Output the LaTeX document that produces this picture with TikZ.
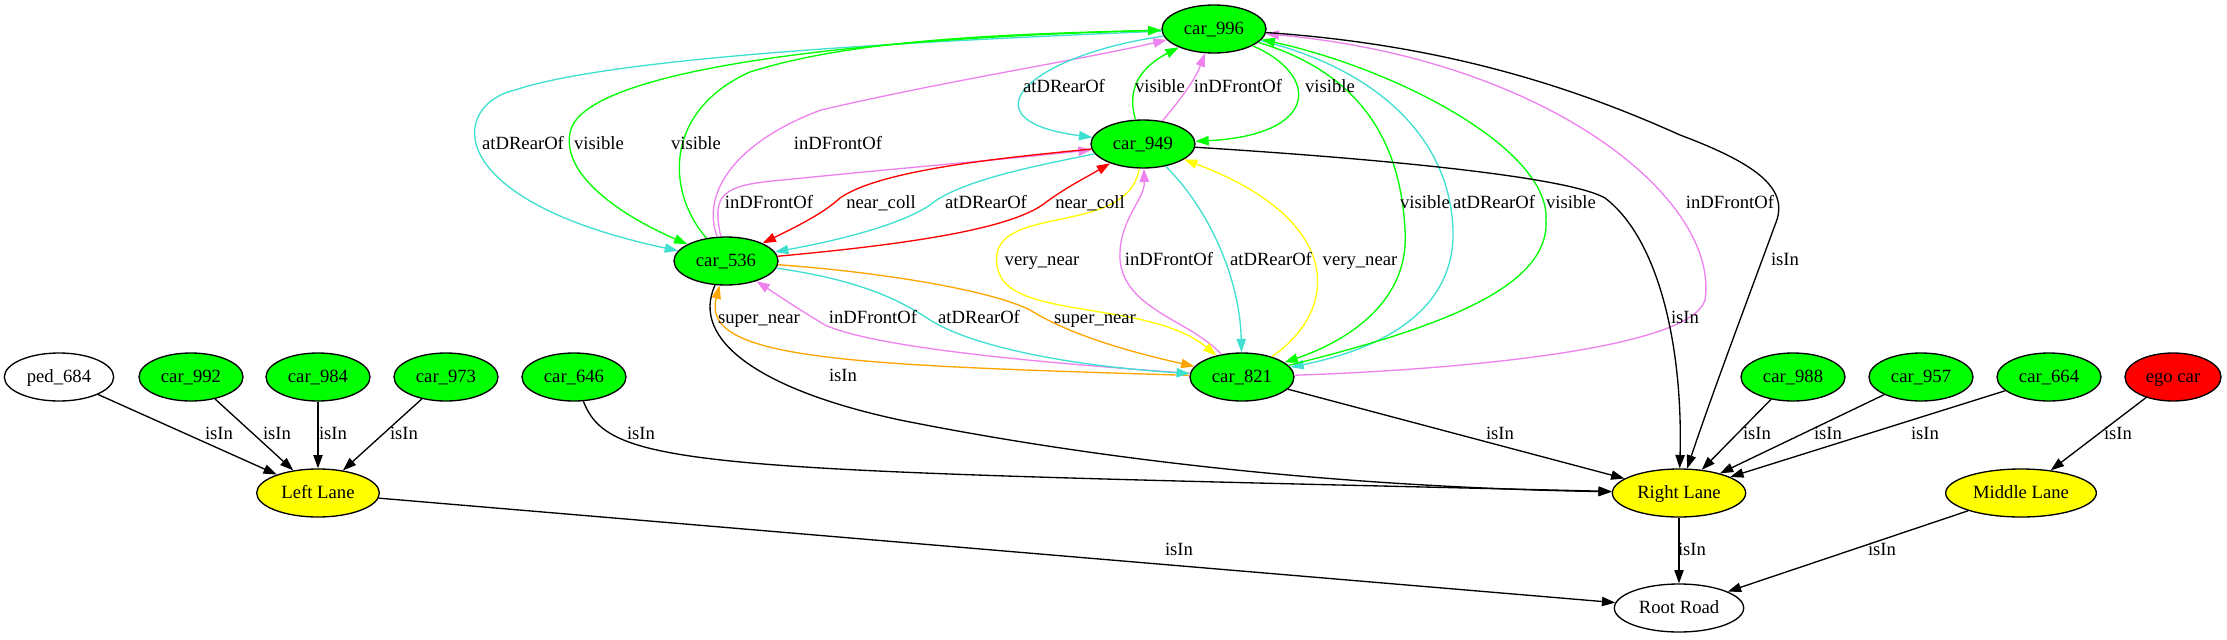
\documentclass[tikz,border=0pt]{standalone}
\usepackage{fontspec}
\setmainfont{Liberation Serif}
\usetikzlibrary{shapes.geometric,arrows.meta}
\definecolor{gvgreen}{HTML}{00FF00}
\definecolor{gvturq}{HTML}{40E0D0}
\definecolor{gvviolet}{HTML}{EE82EE}
\definecolor{gvorange}{HTML}{FFA500}
\definecolor{gvyellow}{HTML}{FFFF00}
\begin{document}
\begin{tikzpicture}[x=0.75pt,y=-0.75pt,
	txt/.style={font=\fontsize{14}{16}\selectfont,text height=10pt,text depth=2pt},
	obj/.style={ellipse,draw,line width=1pt,inner sep=0pt,minimum width=78pt,minimum height=36pt,txt},
	car/.style={obj,fill=gvgreen},
	lane/.style={obj,fill=gvyellow},
	rel/.style={line width=1pt,-{Triangle[length=10pt,width=7pt]}},
	lbl/.style={inner sep=0pt,txt}]
	\useasboundingbox (0,0) rectangle (2227,639);

	%objects
	\node[car] (car996) at (1214,29) {car\_996};
	\node[car] (car949) at (1143,144) {car\_949};
	\node[car] (car536) at (726,261) {car\_536};
	\node[car] (car821) at (1242,377) {car\_821};
	\node[obj,minimum width=82pt] (ped684) at (59,377) {ped\_684};
	\node[car] (car992) at (191,377) {car\_992};
	\node[car] (car984) at (318,377) {car\_984};
	\node[car] (car973) at (446,377) {car\_973};
	\node[car] (car646) at (574,377) {car\_646};
	\node[car] (car988) at (1793,377) {car\_988};
	\node[car] (car957) at (1921,377) {car\_957};
	\node[car] (car664) at (2049,377) {car\_664};
	\node[obj,fill=red,minimum width=72pt] (ego) at (2173,377) {ego car};

	%lanes and road
	\node[lane,minimum width=92pt] (leftlane) at (318,493) {Left Lane};
	\node[lane,minimum width=100pt] (rightlane) at (1679,493) {Right Lane};
	\node[lane,minimum width=113pt] (midlane) at (2021,493) {Middle Lane};
	\node[obj,minimum width=97pt] (road) at (1679,608) {Root Road};

	%car_996 - car_536
	\draw[rel,gvturq] (car996) .. controls (950,40) and (620,55) .. (515,90) .. controls (450,105) and (440,200) .. (car536); %atDRearOf
	\draw[rel,gvgreen] (car996) .. controls (850,38) and (580,70) .. (570,133) .. controls (562,175) and (620,215) .. (car536); %visible
	\draw[rel,gvgreen] (car536) .. controls (665,190) and (665,110) .. (750,72) .. controls (850,40) and (1000,34) .. (car996); %visible
	\draw[rel,gvviolet] (car536) .. controls (700,190) and (740,140) .. (821,110) .. controls (950,80) and (1080,60) .. (car996); %inDFrontOf

	%car_996 - car_949
	\draw[rel,gvturq] (car996) .. controls (1030,55) and (960,120) .. (car949); %atDRearOf
	\draw[rel,gvgreen] (car949) .. controls (1125,85) and (1145,65) .. (car996); %visible
	\draw[rel,gvviolet] (car949) .. controls (1180,100) and (1195,80) .. (car996); %inDFrontOf
	\draw[rel,gvgreen] (car996) .. controls (1320,75) and (1320,135) .. (car949); %visible

	%car_949 - car_536
	\draw[rel,gvviolet] (car536) .. controls (712,195) and (720,185) .. (783,180) .. controls (900,168) and (1000,160) .. (car949); %inDFrontOf
	\draw[rel,red] (car949) .. controls (1000,158) and (880,170) .. (840,198) .. controls (825,212) and (800,225) .. (car536); %near_coll
	\draw[rel,gvturq] (car949) .. controls (1040,165) and (960,180) .. (930,205) .. controls (900,225) and (840,240) .. (car536); %atDRearOf
	\draw[rel,red] (car536) .. controls (900,245) and (1010,230) .. (1045,203) .. controls (1065,188) and (1085,178) .. (car949); %near_coll

	%car_949 - car_821
	\draw[rel,gvturq] (car949) .. controls (1210,210) and (1240,280) .. (car821); %atDRearOf
	\draw[rel,gvviolet] (car821) .. controls (1190,320) and (1125,310) .. (1120,260) .. controls (1118,220) and (1145,200) .. (car949); %inDFrontOf
	\draw[rel,gvyellow] (car949) .. controls (1128,240) and (980,200) .. (998,270) .. controls (1010,320) and (1150,300) .. (car821); %very_near
	\draw[rel,gvyellow] (car821) .. controls (1340,310) and (1345,220) .. (car949); %very_near

	%car_996 - car_821
	\draw[rel,gvgreen] (car996) .. controls (1350,70) and (1400,130) .. (1405,230) .. controls (1410,300) and (1350,340) .. (car821); %visible
	\draw[rel,gvturq] (car996) .. controls (1380,70) and (1450,140) .. (1453,230) .. controls (1455,300) and (1400,345) .. (car821); %atDRearOf
	\draw[rel,gvgreen] (car821) .. controls (1430,330) and (1550,290) .. (1546,220) .. controls (1550,150) and (1400,70) .. (car996); %visible
	\draw[rel,gvviolet] (car821) .. controls (1450,370) and (1690,350) .. (1705,300) .. controls (1720,200) and (1550,60) .. (car996); %inDFrontOf

	%car_536 - car_821
	\draw[rel,gvorange] (car536) .. controls (880,272) and (990,290) .. (1030,310) .. controls (1070,335) and (1130,352) .. (car821); %super_near
	\draw[rel,gvorange] (car821) .. controls (850,365) and (700,360) .. (car536); %super_near
	\draw[rel,gvviolet] (car821) .. controls (1000,360) and (870,345) .. (825,325) .. controls (800,310) and (785,300) .. (car536); %inDFrontOf
	\draw[rel,gvturq] (car536) .. controls (860,280) and (900,300) .. (930,320) .. controls (970,345) and (1060,365) .. (car821); %atDRearOf

	%isIn
	\draw[rel] (car996) .. controls (1450,45) and (1580,90) .. (1680,135) .. controls (1760,165) and (1790,190) .. (1775,225) .. controls (1740,320) and (1710,400) .. (rightlane);
	\draw[rel] (car949) .. controls (1400,160) and (1570,178) .. (1605,198) .. controls (1660,240) and (1683,350) .. (rightlane);
	\draw[rel] (car536) .. controls (690,340) and (760,390) .. (900,420) .. controls (1150,470) and (1400,488) .. (rightlane);
	\draw[rel] (car646) .. controls (610,470) and (700,470) .. (rightlane);
	\draw[rel] (car821) -- (rightlane);
	\draw[rel] (car988) -- (rightlane);
	\draw[rel] (car957) -- (rightlane);
	\draw[rel] (car664) -- (rightlane);
	\draw[rel] (ped684) -- (leftlane);
	\draw[rel] (car992) -- (leftlane);
	\draw[rel] (car984) -- (leftlane);
	\draw[rel] (car973) -- (leftlane);
	\draw[rel] (ego) -- (midlane);
	\draw[rel] (leftlane) -- (road);
	\draw[rel] (rightlane) -- (road);
	\draw[rel] (midlane) -- (road);

	%labels
	\node[lbl] (l1) at (523,144) {atDRearOf};
	\node[lbl] (l2) at (599,144) {visible};
	\node[lbl] (l3) at (696,144) {visible};
	\node[lbl] (l4) at (838,144) {inDFrontOf};
	\node[lbl] (l5) at (1064,87) {atDRearOf};
	\node[lbl] (l6) at (1160,87) {visible};
	\node[lbl] (l7) at (1238,87) {inDFrontOf};
	\node[lbl] (l8) at (1330,87) {visible};
	\node[lbl] (l9) at (769,203) {inDFrontOf};
	\node[lbl] (l10) at (881,203) {near\_coll};
	\node[lbl] (l11) at (986,203) {atDRearOf};
	\node[lbl] (l12) at (1090,203) {near\_coll};
	\node[lbl] (l13) at (1425,203) {visible};
	\node[lbl] (l14) at (1494,203) {atDRearOf};
	\node[lbl] (l15) at (1571,203) {visible};
	\node[lbl] (l16) at (1730,203) {inDFrontOf};
	\node[lbl] (l17) at (1042,260) {very\_near};
	\node[lbl] (l18) at (1169,260) {inDFrontOf};
	\node[lbl] (l19) at (1271,260) {atDRearOf};
	\node[lbl] (l20) at (1360,260) {very\_near};
	\node[lbl] (l21) at (1785,260) {isIn};
	\node[lbl] (l22) at (759,318) {super\_near};
	\node[lbl] (l23) at (873,318) {inDFrontOf};
	\node[lbl] (l24) at (979,318) {atDRearOf};
	\node[lbl] (l25) at (1095,318) {super\_near};
	\node[lbl] (l26) at (1685,318) {isIn};
	\node[lbl] (l27) at (843,376) {isIn};
	\node[lbl] (l28) at (219,434) {isIn};
	\node[lbl] (l29) at (277,434) {isIn};
	\node[lbl] (l30) at (333,434) {isIn};
	\node[lbl] (l31) at (404,434) {isIn};
	\node[lbl] (l32) at (641,434) {isIn};
	\node[lbl] (l33) at (1500,434) {isIn};
	\node[lbl] (l34) at (1757,434) {isIn};
	\node[lbl] (l35) at (1828,434) {isIn};
	\node[lbl] (l36) at (1925,434) {isIn};
	\node[lbl] (l37) at (2118,434) {isIn};
	\node[lbl] (l38) at (1179,550) {isIn};
	\node[lbl] (l39) at (1692,550) {isIn};
	\node[lbl] (l40) at (1882,550) {isIn};
\end{tikzpicture}
\end{document}
